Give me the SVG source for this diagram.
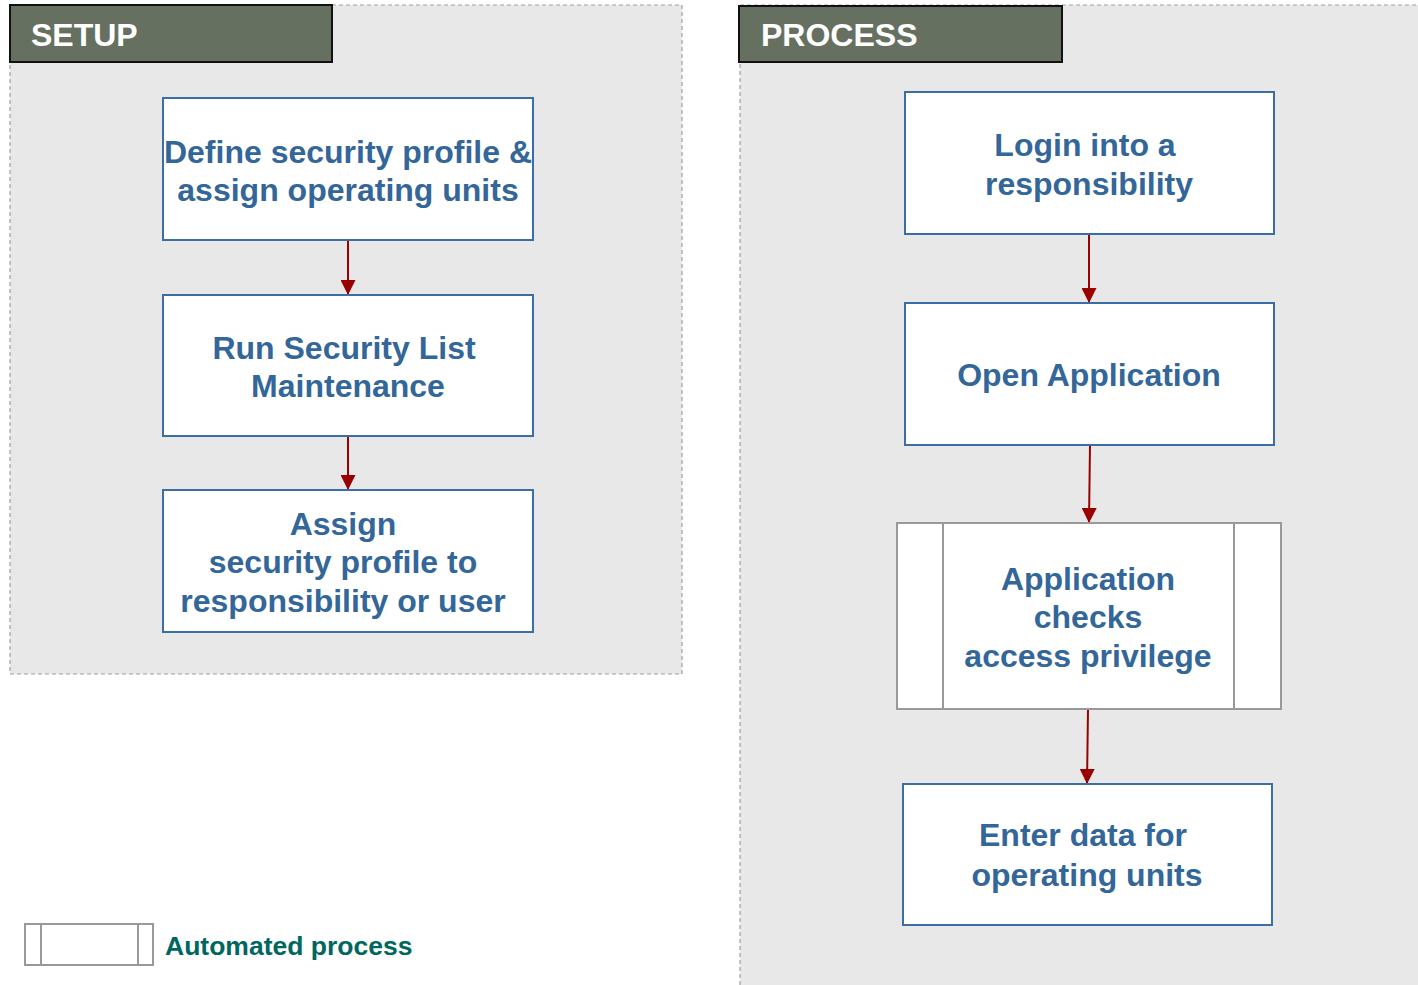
<svg xmlns="http://www.w3.org/2000/svg" width="1418" height="985" viewBox="0 0 1418 985">
<defs>
<style>
.panel{fill:#e8e8e8;stroke:#a0a0a0;stroke-width:1.2;stroke-dasharray:4,3}
.hdr{fill:#667060;stroke:#111;stroke-width:2}
.hdrt{font-family:"Liberation Sans",Arial,sans-serif;font-weight:bold;font-size:32px;fill:#ffffff}
.box{fill:#ffffff;stroke:#3a6ea5;stroke-width:2}
.auto{fill:#ffffff;stroke:#999999;stroke-width:2}
.t{font-family:"Liberation Sans",Arial,sans-serif;font-weight:bold;font-size:32px;fill:#336699;text-anchor:middle}
.leg{font-family:"Liberation Sans",Arial,sans-serif;font-weight:bold;font-size:26.5px;fill:#006660}
.conn{stroke:#990000;stroke-width:2;fill:none}
</style>
<marker id="ah" viewBox="0 0 10 10" refX="10" refY="5" markerWidth="15" markerHeight="15" markerUnits="userSpaceOnUse" orient="auto">
<path d="M0,0 L10,5 L0,10 z" fill="#990000"/>
</marker>
</defs>
<g id="setup-panel">
<rect class="panel" x="10" y="5" width="672" height="669"/>
<rect class="hdr" x="10" y="5" width="322" height="57"/>
<text class="hdrt" x="31" y="46">SETUP</text>
</g>
<g id="process-panel">
<rect class="panel" x="740" y="5" width="690" height="990"/>
<rect class="hdr" x="739" y="6" width="323" height="56"/>
<text class="hdrt" x="761" y="46">PROCESS</text>
</g>
<g id="connectors">
<path class="conn" d="M348,240 L348,295" marker-end="url(#ah)"/>
<path class="conn" d="M348,436 L348,490" marker-end="url(#ah)"/>
<path class="conn" d="M1089,234 L1089,303" marker-end="url(#ah)"/>
<path class="conn" d="M1090,445 L1089,523" marker-end="url(#ah)"/>
<path class="conn" d="M1088,709 L1087,784" marker-end="url(#ah)"/>
</g>
<g id="n-define">
<rect class="box" x="163" y="98" width="370" height="142"/>
<text class="t" x="348" y="163">Define security profile &amp;</text>
<text class="t" x="348" y="201">assign operating units</text>
</g>
<g id="n-run">
<rect class="box" x="163" y="295" width="370" height="141"/>
<text class="t" x="344" y="359">Run Security List</text>
<text class="t" x="348" y="397">Maintenance</text>
</g>
<g id="n-assign">
<rect class="box" x="163" y="490" width="370" height="142"/>
<text class="t" x="343" y="535">Assign</text>
<text class="t" x="343" y="573">security profile to</text>
<text class="t" x="343" y="612">responsibility or user</text>
</g>
<g id="n-login">
<rect class="box" x="905" y="92" width="369" height="142"/>
<text class="t" x="1085" y="156">Login into a</text>
<text class="t" x="1089" y="195">responsibility</text>
</g>
<g id="n-open">
<rect class="box" x="905" y="303" width="369" height="142"/>
<text class="t" x="1089" y="386">Open Application</text>
</g>
<g id="n-check">
<rect class="auto" x="897" y="523" width="384" height="186"/>
<line class="auto" x1="943" y1="523" x2="943" y2="709"/>
<line class="auto" x1="1234" y1="523" x2="1234" y2="709"/>
<text class="t" x="1088" y="590">Application</text>
<text class="t" x="1088" y="628">checks</text>
<text class="t" x="1088" y="667">access privilege</text>
</g>
<g id="n-enter">
<rect class="box" x="903" y="784" width="369" height="141"/>
<text class="t" x="1083" y="846">Enter data for</text>
<text class="t" x="1087" y="886">operating units</text>
</g>
<g id="legend">
<rect class="auto" x="25" y="924" width="128" height="41"/>
<line class="auto" x1="41" y1="924" x2="41" y2="965"/>
<line class="auto" x1="138" y1="924" x2="138" y2="965"/>
<text class="leg" x="165" y="955">Automated process</text>
</g>
</svg>
